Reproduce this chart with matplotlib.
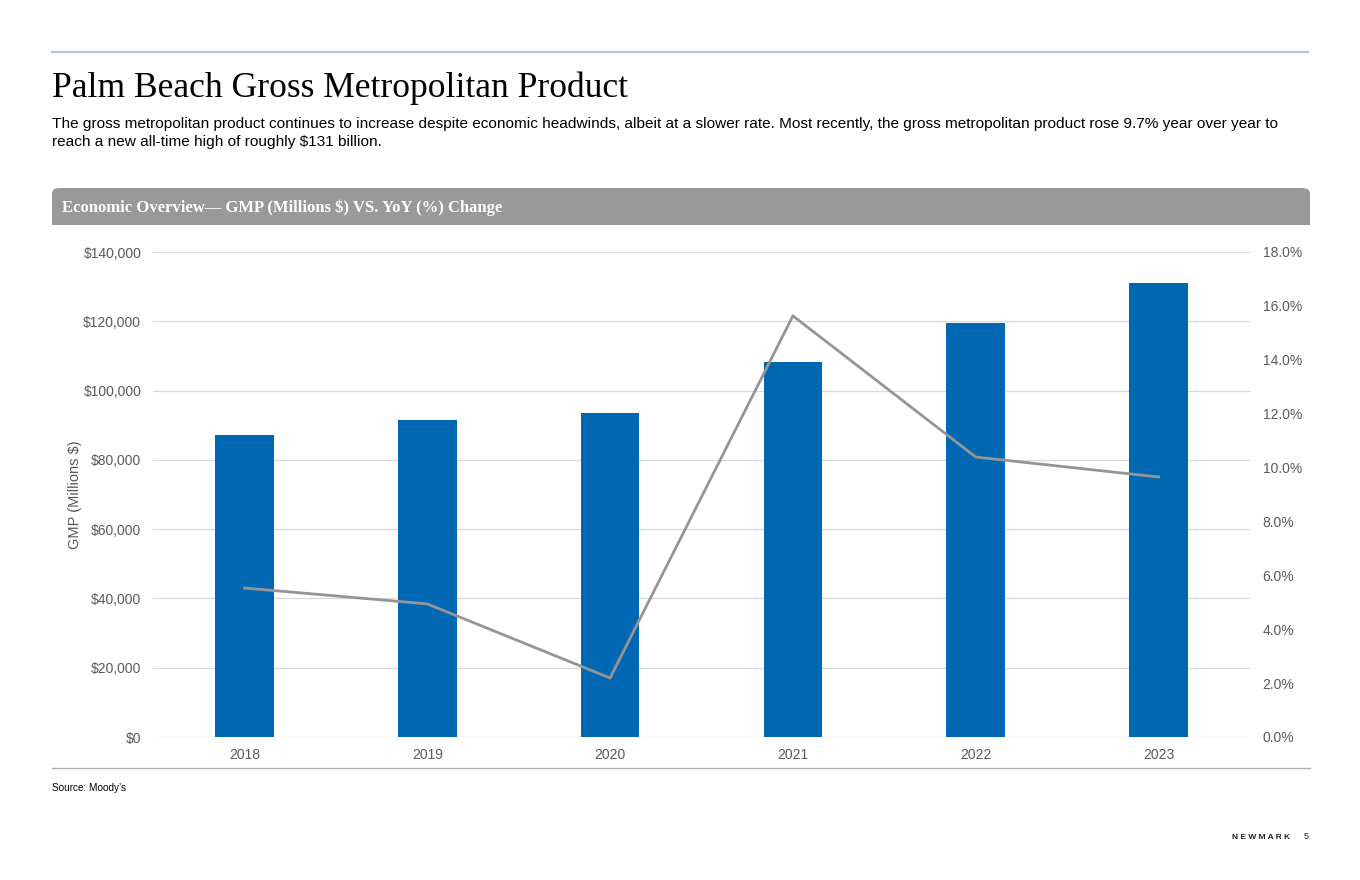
import matplotlib.pyplot as plt
from matplotlib.patches import FancyBboxPatch
from matplotlib.ticker import FuncFormatter
import numpy as np

years = ['2018', '2019', '2020', '2021', '2022', '2023']
gmp = [87200, 91500, 93500, 108300, 119500, 131100]
yoy = [5.53, 4.94, 2.19, 15.63, 10.39, 9.65]

fig = plt.figure(figsize=(13.6, 8.8), dpi=100)
W, H = 1360, 880

def fx(px):
    return px / W

def fy(py):
    return 1 - py / H

# top rule and headings
fig.add_artist(plt.Line2D([fx(52), fx(1308)], [fy(52), fy(52)], color='#a9c4d8', lw=1.3))
fig.text(fx(52), fy(88), 'Palm Beach Gross Metropolitan Product', family='Liberation Serif',
         fontsize=25.6, va='center', ha='left', color='black')
fig.text(fx(52), fy(133),
         'The gross metropolitan product continues to increase despite economic headwinds, albeit at a slower rate. '
         'Most recently, the gross metropolitan product rose 9.7% year over year to\n'
         'reach a new all-time high of roughly $131 billion.',
         family='Liberation Sans', fontsize=11.1, va='center', ha='left', linespacing=1.4)

# grey header band
band = FancyBboxPatch((fx(52), fy(225)), fx(1310) - fx(52), fy(188) - fy(225),
                      boxstyle='round,pad=0,rounding_size=0.006', transform=fig.transFigure,
                      facecolor='#999999', edgecolor='none')
fig.add_artist(band)
fig.add_artist(plt.Rectangle((fx(52), fy(225)), fx(1310) - fx(52), (fy(188) - fy(225)) / 2,
                             transform=fig.transFigure, facecolor='#999999', edgecolor='none'))
fig.text(fx(62), fy(208), 'Economic Overview\u2014 GMP (Millions $) VS. YoY (%) Change',
         family='Liberation Serif', fontweight='bold', fontsize=12, color='white', va='center')

# chart
ax = fig.add_axes([fx(153), fy(737), fx(1250) - fx(153), fy(252) - fy(737)])
x = np.arange(len(years))
ax.bar(x, gmp, width=0.32, color='#0068b3', zorder=2)
ax.set_xlim(-0.5, 5.5)
ax.set_ylim(0, 140000)
ax.set_yticks(np.arange(0, 140001, 20000))
ax.yaxis.set_major_formatter(FuncFormatter(lambda v, p: '${:,.0f}'.format(v)))
ax.set_xticks(x)
ax.set_xticklabels(years)
ax.grid(axis='y', color='#d9d9d9', lw=0.9, zorder=0)
for s in ax.spines.values():
    s.set_visible(False)
ax.tick_params(length=0, labelsize=10, colors='#595959', pad=8)
ax.tick_params(axis='y', pad=8.5)
ax.set_ylabel('GMP (Millions $)', fontsize=10.5, color='#595959', family='Liberation Sans', labelpad=1)

ax2 = ax.twinx()
ax2.plot(x, yoy, color='#959595', lw=2, zorder=3)
ax2.set_ylim(0, 18)
ax2.set_yticks(np.arange(0, 18.1, 2))
ax2.yaxis.set_major_formatter(FuncFormatter(lambda v, p: '{:.1f}%'.format(v)))
for s in ax2.spines.values():
    s.set_visible(False)
ax2.tick_params(length=0, labelsize=10, colors='#595959', pad=9)

for a in (ax, ax2):
    for lab in a.get_xticklabels() + a.get_yticklabels():
        lab.set_family('Liberation Sans')

# bottom rule and footer
fig.add_artist(plt.Line2D([fx(52), fx(1310)], [fy(768), fy(768)], color='#b0b0b0', lw=1))
fig.text(fx(52), fy(788), 'Source: Moody\u2019s', family='Liberation Sans', fontsize=7.2, va='center')
fig.text(fx(1290), fy(837), 'N E W M A R K', family='Liberation Sans', fontweight='bold',
         fontsize=6, va='center', ha='right', color='#222222')
fig.text(fx(1306), fy(836), '5', family='Liberation Sans', fontsize=6.5, va='center', ha='center',
         color='#222222')

fig.savefig('out.png', dpi=100)
